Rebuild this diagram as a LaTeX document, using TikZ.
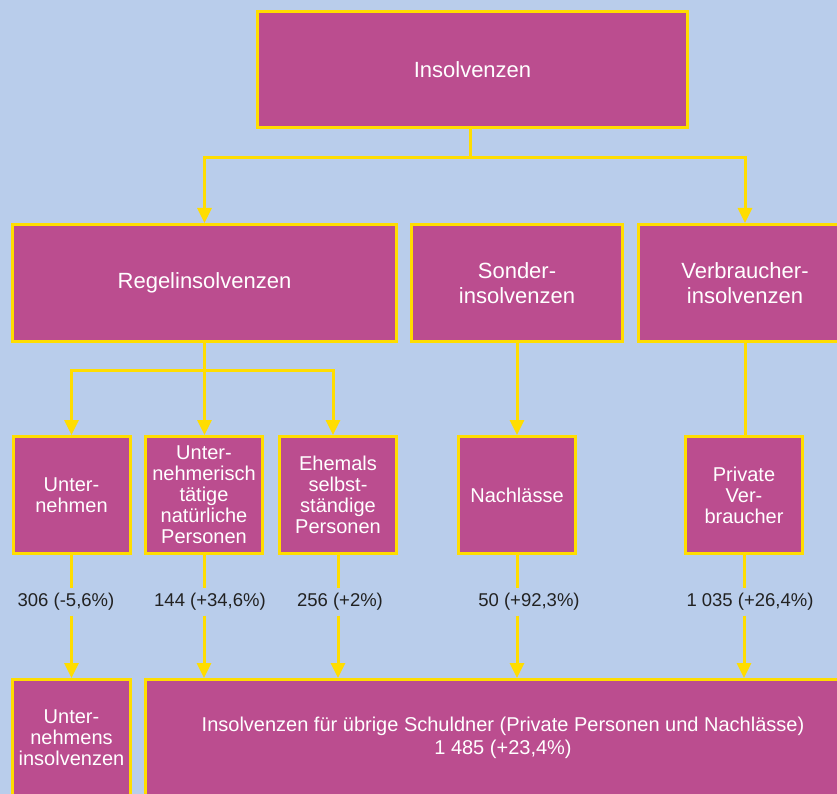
\documentclass[tikz,border=0pt]{standalone}
\usepackage{fontspec}
\setmainfont{Liberation Sans}
\usetikzlibrary{arrows.meta}
\usetikzlibrary{calc}
\definecolor{bgblue}{HTML}{B9CDEB}
\definecolor{lila}{HTML}{BB4D8F}
\definecolor{gelb}{HTML}{FFDD00}
\definecolor{zahl}{HTML}{222222}

\begin{document}
\begin{tikzpicture}[ x=1pt, y=-1pt,
      box/.style={ draw=gelb, line width=3pt, fill=lila, text=white, align=center,
        inner sep=0pt, font=\fontsize{20}{21}\selectfont, minimum width=117pt, minimum height=117pt},
      bigbox/.style={ box, font=\fontsize{22}{25}\selectfont, minimum height=117pt},
      link/.style={ draw=gelb, line width=3pt},
      arrow/.style={ link, -{Triangle[width=14pt,length=15pt]}},
      number/.style={ text=zahl, inner sep=0pt, minimum height=27pt, font=\fontsize{18.5}{20}\selectfont}
      ]
      \useasboundingbox (0,0) rectangle (837,794);
      \fill[bgblue] (0,0) rectangle (837,794);
      \clip (0,0) rectangle (837,794);

      % top level
      \node[bigbox, minimum width=430pt, minimum height=116pt] (Insolvenzen) at (472.5,69.5) {Insolvenzen};

      % second level
      \node[bigbox, minimum width=384pt] (Regel) at (204.5,283) {Regelinsolvenzen};
      \node[bigbox, minimum width=211pt] (Sonder) at (517,283) {Sonder-\\insolvenzen};
      \node[bigbox, minimum width=213pt] (Verbr) at (745,283) {Verbraucher-\\insolvenzen};

      % third level
      \node[box] (Untern) at (71.5,495) {Unter-\\nehmen};
      \node[box] (NatPers) at (204,495) {Unter-\\nehmerisch\\tätige\\natürliche\\Personen};
      \node[box] (Ehemals) at (338,495) {Ehemals\\selbst-\\ständige\\Personen};
      \node[box] (Nachl) at (517,495) {Nachlässe};
      \node[box] (Privat) at (744,495) {Private\\Ver-\\braucher};

      % numbers
      \node[number] (NUntern) at (66,602) {306 (-5,6\%)};
      \node[number] (NNatPers) at (210,602) {144 (+34,6\%)};
      \node[number] (NEhemals) at (340,602) {256 (+2\%)};
      \node[number] (NNachl) at (529,602) {50 (+92,3\%)};
      \node[number] (NPrivat) at (750,602) {1 035 (+26,4\%)};

      % bottom level
      \node[box, minimum width=118pt, minimum height=116pt] (UInsolv) at (71.5,737.5) {Unter-\\nehmens\\insolvenzen};
      \node[box, minimum width=715pt, minimum height=116pt, font=\fontsize{20}{23}\selectfont] (Uebrige) at (503,737.5)
        {Insolvenzen für übrige Schuldner (Private Personen und Nachlässe)\\1 485 (+23,4\%)};

      % connectors
      \coordinate (ForkA) at (470,158);
      \coordinate (ForkB) at (204.5,370);
      \draw[link] (Insolvenzen.south -| ForkA) -- (ForkA);
      \draw[arrow] (ForkA) -| (Regel.north);
      \draw[arrow] (ForkA) -| (Verbr.north);
      \draw[arrow] (Sonder) -- (Nachl);
      \draw[link] (Verbr.south) -- (Privat.north -| Verbr.south);

      \draw[link] (Regel.south) -- (ForkB);
      \draw[arrow] (ForkB) -| (Untern.north);
      \draw[arrow] (ForkB) -- (NatPers.north -| ForkB);
      \draw[arrow] (ForkB) -| ($(Ehemals.north)+(-5,0)$);

      \foreach \src/\num/\dst in {Untern/NUntern/UInsolv, NatPers/NNatPers/Uebrige,
                                 Ehemals/NEhemals/Uebrige, Nachl/NNachl/Uebrige, Privat/NPrivat/Uebrige}{
        \draw[link] (\src.south) -- (\src.south |- \num.north);
        \draw[arrow] (\src.south |- \num.south) -- (\src.south |- \dst.north);
      }
\end{tikzpicture}
\end{document}
